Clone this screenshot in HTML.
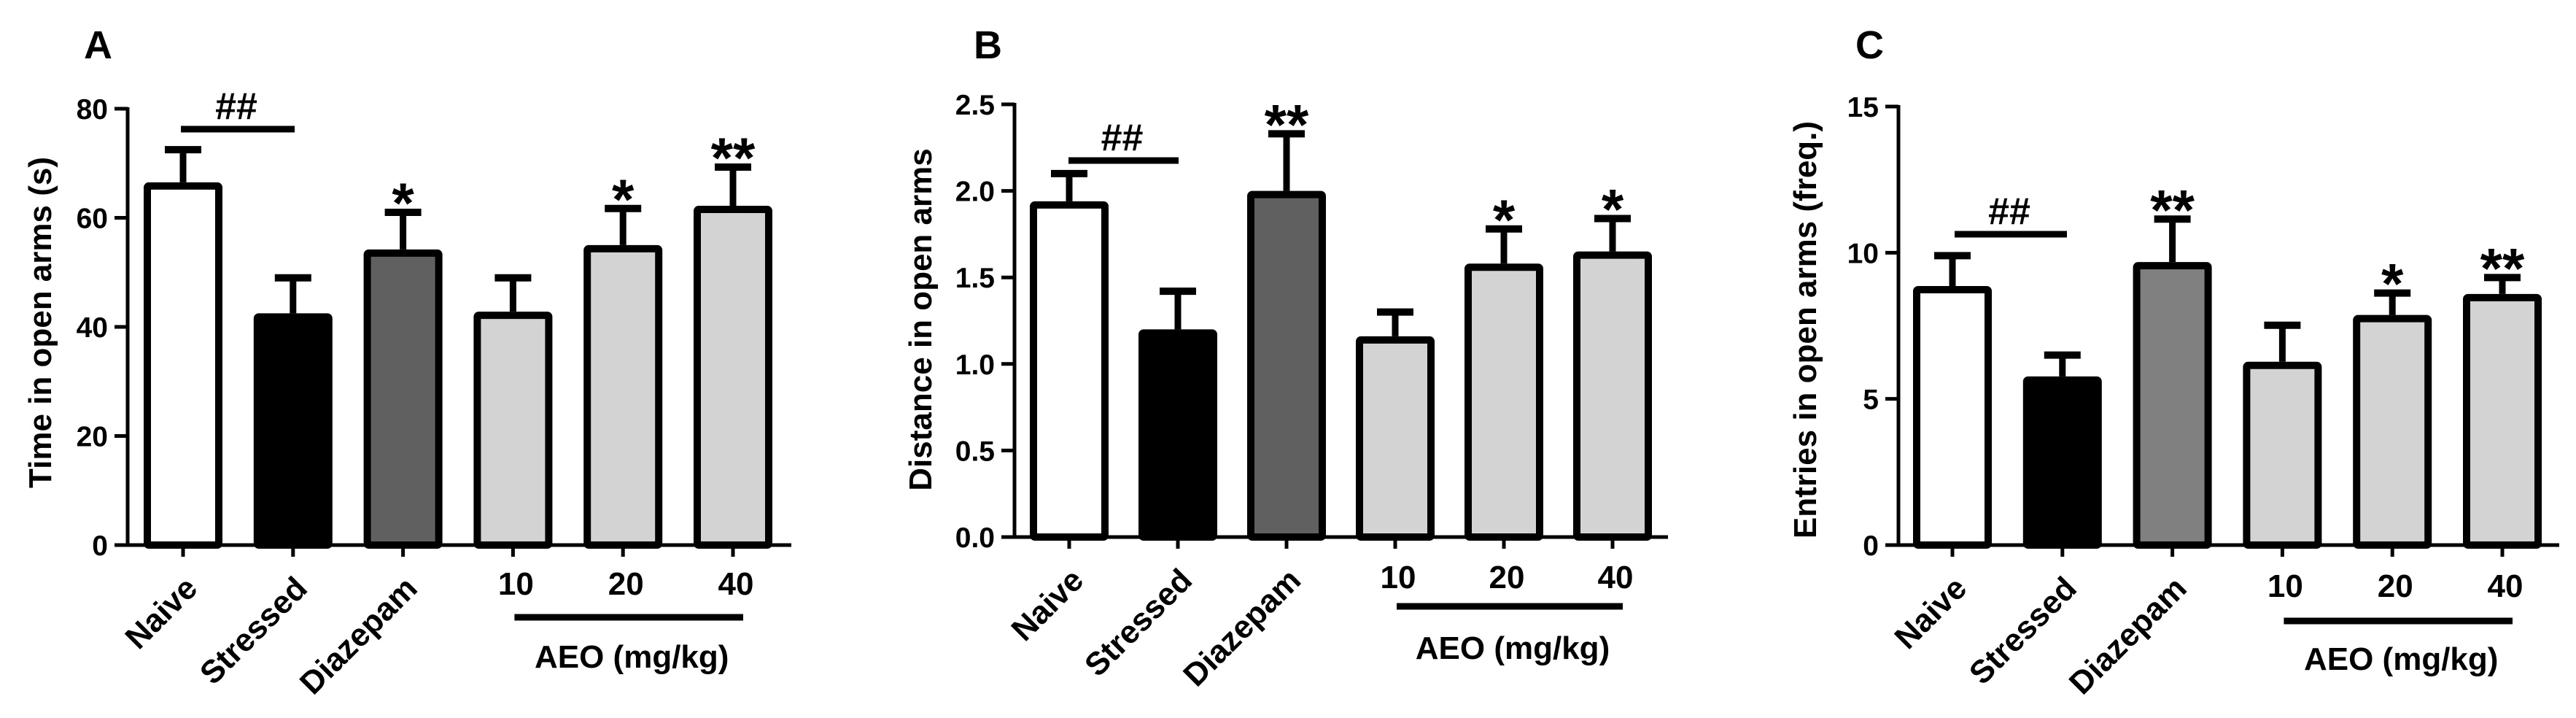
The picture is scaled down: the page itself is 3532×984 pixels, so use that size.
<!DOCTYPE html>
<html><head><meta charset="utf-8"><style>
html,body{margin:0;padding:0;background:#fff;}
svg{display:block;}
text{font-family:"Liberation Sans",Arial,sans-serif;font-weight:bold;fill:#000;}
</style></head>
<body>
<svg id="fig" width="3532" height="984" viewBox="0 0 3532 984" xmlns="http://www.w3.org/2000/svg"></svg>
<script>
const categories = ["Naive","Stressed","Diazepam","10","20","40"];
const valuesA = [66.5, 42.5, 54.2, 42.8, 55.0, 62.2];
const errorsA = [72.5, 49.0, 61.0, 49.0, 61.7, 69.3];
const valuesB = [1.94, 1.20, 2.00, 1.16, 1.58, 1.65];
const errorsB = [2.10, 1.42, 2.33, 1.30, 1.78, 1.84];
const valuesC = [8.86, 5.77, 9.68, 6.27, 7.87, 8.59];
const errorsC = [9.9, 6.5, 11.15, 7.52, 8.62, 9.15];
const ticksA = ["0","20","40","60","80"];
const ticksB = ["0.0","0.5","1.0","1.5","2.0","2.5"];
const ticksC = ["0","5","10","15"];
const starsA = ["","","*","","*","**"];
const starsB = ["","","**","","*","*"];
const starsC = ["","","**","","*","**"];

const NS="http://www.w3.org/2000/svg";
const svg=document.getElementById('fig');
function mk(tag,attrs,parent){const e=document.createElementNS(NS,tag);for(const k in attrs)e.setAttribute(k,attrs[k]);(parent||svg).appendChild(e);return e;}

const panels=[
 {id:'a',letter:'A',lx:115,ax:175,y0:747,yTop:149,xStart:251,step:150.8,xEnd:1085,max:80,ticks:ticksA,vals:valuesA,errs:errorsA,stars:starsA,
  title:'Time in open arms (s)',tx:54,ty:442,diaz:'#606060',hashL:[248,404],hashY:177,aeoY:846,aeoTxtY:915,numY:815},
 {id:'b',letter:'B',lx:1335,ax:1391,y0:736,yTop:143,xStart:1466,step:149,xEnd:2287,max:2.5,ticks:ticksB,vals:valuesB,errs:errorsB,stars:starsB,
  title:'Distance in open arms',tx:1261,ty:438,diaz:'#606060',hashL:[1465,1616],hashY:220,aeoY:831,aeoTxtY:903,numY:806},
 {id:'c',letter:'C',lx:2544,ax:2603,y0:747,yTop:146,xStart:2677,step:150.8,xEnd:3509,max:15,ticks:ticksC,vals:valuesC,errs:errorsC,stars:starsC,
  title:'Entries in open arms (freq.)',tx:2474,ty:452,diaz:'#808080',hashL:[2680,2834],hashY:321,aeoY:851,aeoTxtY:918,numY:818}
];

panels.forEach(p=>{
  const g=mk('g',{});
  
  
  const yS=v=>p.y0-(v/p.max)*(p.y0-p.yTop);
  const xS=i=>p.xStart+i*p.step;
  const fills=['#ffffff','#000000',p.diaz,'#d3d3d3','#d3d3d3','#d3d3d3'];
  const L=mk('text',{x:p.lx,y:80,'font-size':54,'font-weight':'normal'},g);L.textContent=p.letter;
  
  
  const ya=mk('line',{x1:p.ax,y1:p.yTop-2,x2:p.ax,y2:p.y0+2.5,stroke:'#000','stroke-width':5},g);
  
  
  p.ticks.forEach((t,i)=>{
    const v=i*p.max/(p.ticks.length-1);const y=yS(v);
    const tl=mk('line',{x1:p.ax-18,y1:y,x2:p.ax,y2:y,stroke:'#000','stroke-width':5},g);
    
    
    const tt=mk('text',{x:p.ax-27,y:y+14,'font-size':39,'text-anchor':'end'},g);tt.textContent=t;
    
    
  });
  const yt=mk('text',{x:p.tx,y:p.ty,'font-size':44,'text-anchor':'middle',transform:`rotate(-90 ${p.tx} ${p.ty})`,dy:16},g);yt.textContent=p.title;
  
  
  categories.forEach((c,i)=>{
    const x=xS(i),top=yS(p.vals[i]),et=yS(p.errs[i]);
    const st=mk('line',{x1:x,y1:top,x2:x,y2:et,stroke:'#000','stroke-width':9},g);
    
    
    const cp=mk('line',{x1:x-25,y1:et,x2:x+25,y2:et,stroke:'#000','stroke-width':10},g);
    
    
    const r=mk('rect',{x:x-49,y:top+5,width:98,height:p.y0-top-5,fill:fills[i],stroke:'#000','stroke-width':10,rx:2},g);
    
    
    if(p.stars[i]){
      const s=mk('text',{x:x,y:et+14,'font-size':78,'font-weight':'normal','text-anchor':'middle'},g);s.textContent=p.stars[i];
      
      
    }
    const tk=mk('line',{x1:x,y1:p.y0,x2:x,y2:p.y0+16,stroke:'#000','stroke-width':5},g);
    
    
    let lbl;
    if(i<3){
      const ax=x+22,ay=p.y0+62;
      lbl=mk('text',{x:ax,y:ay,'font-size':44,'text-anchor':'end',transform:`rotate(-45 ${ax} ${ay})`},g);
    } else {
      lbl=mk('text',{x:x+4,y:p.numY,'font-size':44,'text-anchor':'middle'},g);
    }
    lbl.textContent=c;
    
    
  });
  const xa=mk('line',{x1:p.ax-18,y1:p.y0,x2:p.xEnd,y2:p.y0,stroke:'#000','stroke-width':5},g);
  
  
  const hl=mk('line',{x1:p.hashL[0],y1:p.hashY,x2:p.hashL[1],y2:p.hashY,stroke:'#000','stroke-width':9},g);
  
  
  const ht=mk('text',{x:(p.hashL[0]+p.hashL[1])/2-2,y:p.hashY-14,'font-size':52,'font-weight':'normal','text-anchor':'middle','font-family':'Liberation Serif, serif'},g);ht.textContent='##';
  
  
  const al=mk('line',{x1:xS(3)+2,y1:p.aeoY,x2:xS(5)+14,y2:p.aeoY,stroke:'#000','stroke-width':9},g);
  
  
  const at=mk('text',{x:(xS(3)+xS(5))/2+12,y:p.aeoTxtY,'font-size':44,'text-anchor':'middle'},g);at.textContent='AEO (mg/kg)';
  
  
});
</script>
</body></html>
